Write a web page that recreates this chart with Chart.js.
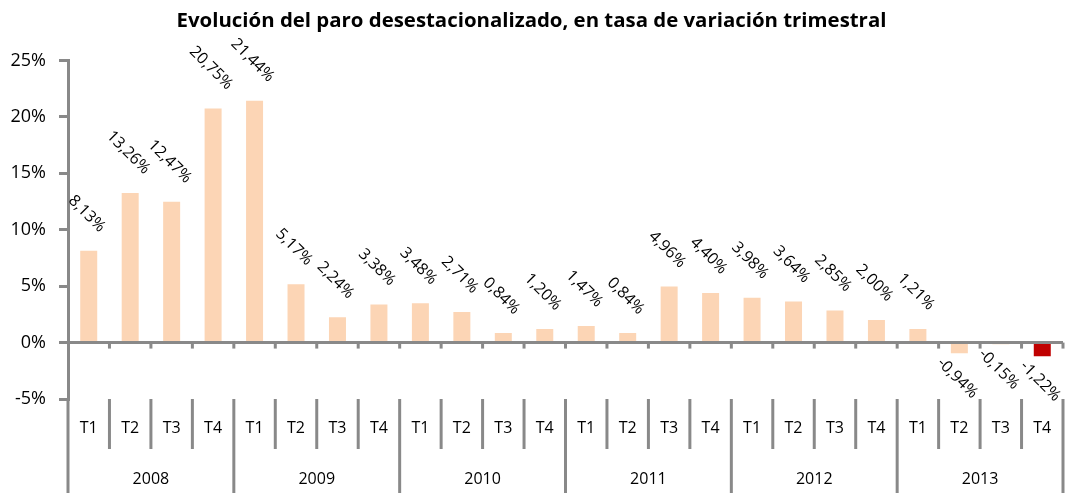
<!DOCTYPE html>
<html lang="es">
<head>
    <meta charset="UTF-8">
    <title>Evolución del paro desestacionalizado</title>
    <script src="https://cdn.jsdelivr.net/npm/chart.js"></script>
    <style>
        body { margin: 0; background: #fff; }
        #wrap { width: 1069px; height: 493px; }
    </style>
</head>
<body>
<div id="wrap"><canvas id="Chart"></canvas></div>
<script>
    // datos
    const years    = ['2008', '2009', '2010', '2011', '2012', '2013'];
    const quarters = ['T1', 'T2', 'T3', 'T4'];
    const tasa = [8.13, 13.26, 12.47, 20.75,
                  21.44, 5.17, 2.24, 3.38,
                  3.48, 2.71, 0.84, 1.20,
                  1.47, 0.84, 4.96, 4.40,
                  3.98, 3.64, 2.85, 2.00,
                  1.21, -0.94, -0.15, -1.22];
    const yTicks = [-5, 0, 5, 10, 15, 20, 25];

    const gris = '#898989';
    const labels = [];
    years.forEach(y => quarters.forEach(q => labels.push(y + ' ' + q)));
    const colores = tasa.map((v, i) => i === tasa.length - 1 ? '#C00000' : '#FCD5B5');

    const fmt = v => v.toFixed(2).replace('.', ',') + '%';

    // etiquetas de datos giradas 45 grados
    const etiquetas = {
        id: 'etiquetas',
        afterDatasetsDraw(chart) {
            const ctx = chart.ctx;
            const meta = chart.getDatasetMeta(0);
            ctx.save();
            ctx.font = '16px "Open Sans"';
            ctx.fillStyle = '#000';
            ctx.textAlign = 'center';
            ctx.textBaseline = 'middle';
            meta.data.forEach((bar, i) => {
                const v = tasa[i];
                const txt = fmt(v);
                const L = ctx.measureText(txt).width;
                const half = (L + 12) / (2 * Math.SQRT2);
                const cx = bar.x - 2;
                const cy = v >= 0 ? bar.y - 17 - half : bar.y + 3 + half;
                ctx.save();
                ctx.translate(cx, cy);
                ctx.rotate(Math.PI / 4);
                ctx.fillText(txt, 0, 0);
                ctx.restore();
            });
            ctx.restore();
        }
    };

    // eje horizontal en 0 y tabla de categorias (trimestre / año)
    const tabla = {
        id: 'tabla',
        afterDraw(chart) {
            const ctx = chart.ctx;
            const x = chart.scales.x, y = chart.scales.y, ca = chart.chartArea;
            const H = chart.height;
            const y0 = y.getPixelForValue(0);
            const w = x.getPixelForValue(1) - x.getPixelForValue(0);
            const n = labels.length;
            const line = (x1, y1, x2, y2) => { ctx.beginPath(); ctx.moveTo(x1, y1); ctx.lineTo(x2, y2); ctx.stroke(); };
            ctx.save();
            ctx.strokeStyle = gris;
            ctx.lineWidth = 3;
            line(ca.left, y0, ca.right, y0);
            line(ca.left, ca.bottom, ca.left, H);
            for (let i = 1; i <= n; i++) {
                const b = x.getPixelForValue(i - 1) + w / 2;
                line(b, y0, b, y0 + 6);
                if (i % 4 === 0) line(b, ca.bottom, b, H);
                else line(b, ca.bottom, b, ca.bottom + 50);
            }
            ctx.fillStyle = '#000';
            ctx.textAlign = 'center';
            ctx.textBaseline = 'middle';
            ctx.font = '16px "Open Sans"';
            for (let i = 0; i < n; i++) {
                ctx.fillText(quarters[i % 4], x.getPixelForValue(i), ca.bottom + 29);
            }
            years.forEach((yr, k) => {
                const xc = (x.getPixelForValue(k * 4) + x.getPixelForValue(k * 4 + 3)) / 2;
                ctx.fillText(yr, xc, ca.bottom + 80);
            });
            ctx.restore();
        }
    };

    const ctx = document.getElementById('Chart').getContext('2d');
    const chart = new Chart(ctx, {
        type: 'bar',
        data: {
            labels: labels,
            datasets: [{
                data: tasa,
                backgroundColor: colores,
                borderWidth: 0,
                barPercentage: 0.41,
                categoryPercentage: 1.0
            }]
        },
        options: {
            responsive: true,
            maintainAspectRatio: false,
            animation: false,
            layout: { padding: { left: 0, right: 6, top: 0, bottom: 94 } },
            scales: {
                x: { display: false },
                y: {
                    min: -5,
                    max: 25,
                    afterBuildTicks: s => { s.ticks = yTicks.map(v => ({ value: v })); },
                    afterFit: s => { s.width = 68; },
                    ticks: {
                        callback: v => v + '%',
                        font: { family: 'Open Sans', size: 18 },
                        color: '#000',
                        padding: 13
                    },
                    grid: {
                        drawOnChartArea: false,
                        drawTicks: true,
                        tickLength: 9,
                        color: gris,
                        lineWidth: 3
                    },
                    border: { display: true, color: gris, width: 3 }
                }
            },
            plugins: {
                legend: { display: false },
                tooltip: { enabled: false },
                title: {
                    display: true,
                    text: 'Evolución del paro desestacionalizado, en tasa de variación trimestral',
                    font: { family: 'Open Sans', size: 20.4, weight: 'bold' },
                    color: '#000',
                    padding: { top: 9, bottom: 27 }
                }
            }
        },
        plugins: [etiquetas, tabla]
    });
</script>
</body>
</html>
